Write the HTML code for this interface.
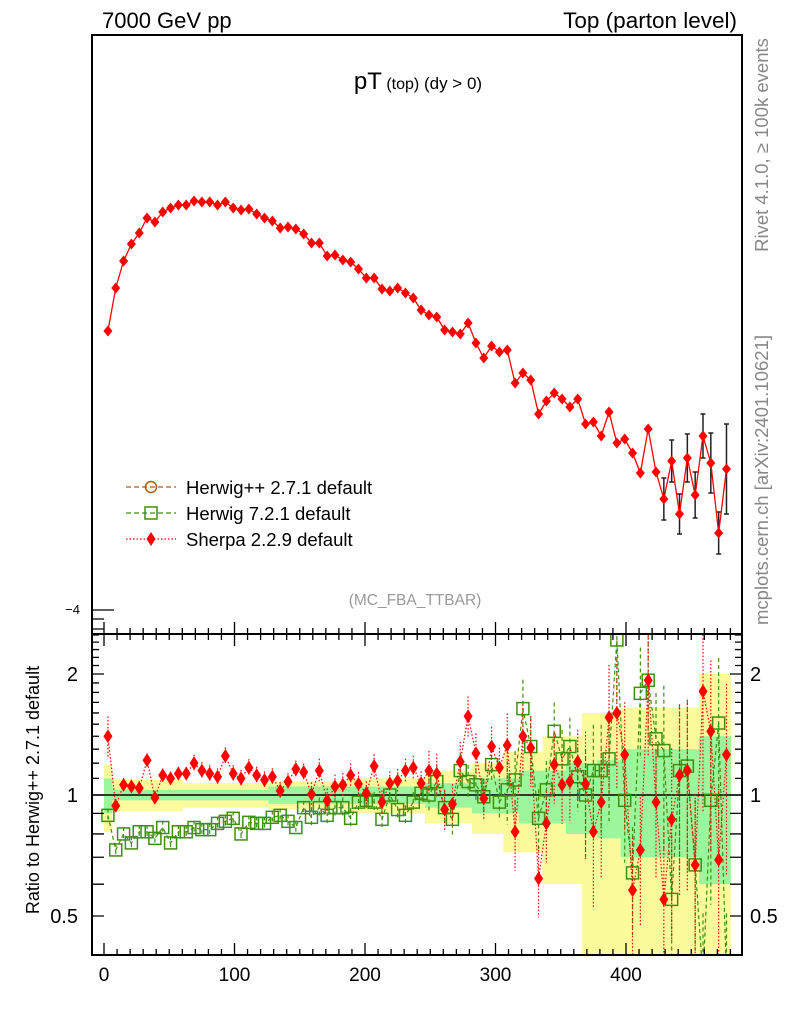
<!DOCTYPE html>
<html><head><meta charset="utf-8">
<style>
html,body{margin:0;padding:0;background:#fff;overflow:hidden;width:786px;height:1024px;}
svg{display:block;font-family:"Liberation Sans",sans-serif;}
</style></head>
<body>
<svg id="chart" width="786" height="1024" viewBox="0 0 786 1024" xmlns="http://www.w3.org/2000/svg">
<defs>
<clipPath id="clipMain"><rect x="92" y="35" width="650" height="599"/></clipPath>
<clipPath id="clipRatio"><rect x="92" y="634" width="650" height="321"/></clipPath>
</defs>
<text x="102" y="28" font-size="22">7000 GeV pp</text>
<text x="737" y="28" font-size="22.5" text-anchor="end">Top (parton level)</text>
<text x="418" y="89" text-anchor="middle"><tspan font-size="24">pT</tspan><tspan font-size="16"> (top)</tspan><tspan font-size="17"> (dy &gt; 0)</tspan></text>
<text x="415" y="605" font-size="15.5" fill="#999" text-anchor="middle">(MC_FBA_TTBAR)</text>
<text transform="translate(768,145) rotate(-90)" font-size="18.5" fill="#888" text-anchor="middle">Rivet 4.1.0, ≥ 100k events</text>
<text transform="translate(768,480) rotate(-90)" font-size="18.5" fill="#888" text-anchor="middle">mcplots.cern.ch [arXiv:2401.10621]</text>
<text transform="translate(39,790) rotate(-90)" font-size="18" text-anchor="middle">Ratio to Herwig++ 2.7.1 default</text>
<text x="80" y="614" font-size="13" text-anchor="end">−4</text>
<g id="bands" clip-path="url(#clipRatio)"></g>
<g id="ratioMarks" clip-path="url(#clipRatio)"></g>
<g id="mainMarks" clip-path="url(#clipMain)"></g>
<g id="axes"></g>
<g>
 <g>
  <line x1="126" y1="487" x2="176" y2="487" stroke="#b05a10" stroke-width="1.2" stroke-dasharray="5,3"/>
  <circle cx="151" cy="487" r="5.5" fill="none" stroke="#b05a10" stroke-width="1.5"/>
  <text x="186" y="494" font-size="18.5">Herwig++ 2.7.1 default</text>
 </g>
 <g>
  <line x1="126" y1="513" x2="176" y2="513" stroke="#3f8f0f" stroke-width="1.2" stroke-dasharray="5,3"/>
  <rect x="145" y="507" width="12" height="12" fill="none" stroke="#3f8f0f" stroke-width="1.5"/>
  <text x="186" y="520" font-size="18.5">Herwig 7.2.1 default</text>
 </g>
 <g>
  <line x1="126" y1="539" x2="176" y2="539" stroke="#f00" stroke-width="1.2" stroke-dasharray="1.5,2"/>
  <path d="M151,532 L155.5,539 L151,546 L146.5,539 Z" fill="#f00"/>
  <text x="186" y="546" font-size="18.5">Sherpa 2.2.9 default</text>
 </g>
</g>
</svg>
<script>
const ptCenters = [3,9,15,21,27,33,39,45,51,57,63,69,75,81,87,93,99,105,111,117,123,129,135,141,147,153,159,165,171,177,183,189,195,201,207,213,219,225,231,237,243,249,255,261,267,273,279,285,291,297,303,309,315,321,327,333,339,345,351,357,363,369,375,381,387,393,399,405,411,417,423,429,435,441,447,453,459,465,471,477];
const binHalfWidth = 3;
const sherpaLog10 = [-2.605,-2.39,-2.255,-2.17,-2.115,-2.04,-2.06,-2.01,-1.99,-1.975,-1.975,-1.955,-1.96,-1.96,-1.975,-1.96,-1.99,-2.0,-1.995,-2.02,-2.04,-2.055,-2.09,-2.085,-2.095,-2.12,-2.165,-2.165,-2.23,-2.225,-2.25,-2.26,-2.295,-2.34,-2.34,-2.395,-2.405,-2.39,-2.415,-2.44,-2.5,-2.525,-2.535,-2.6,-2.61,-2.62,-2.565,-2.665,-2.74,-2.68,-2.71,-2.7,-2.865,-2.815,-2.85,-3.02,-2.955,-2.915,-2.945,-2.985,-2.945,-3.07,-3.06,-3.13,-3.01,-3.165,-3.145,-3.215,-3.315,-3.095,-3.31,-3.445,-3.255,-3.52,-3.24,-3.425,-3.13,-3.265,-3.615,-3.295];
const sherpaLogErr = [0.004,0.004,0.004,0.004,0.004,0.004,0.004,0.004,0.004,0.004,0.004,0.004,0.004,0.004,0.004,0.004,0.004,0.004,0.004,0.004,0.004,0.004,0.004,0.004,0.004,0.004,0.004,0.004,0.004,0.004,0.004,0.004,0.004,0.004,0.004,0.004,0.004,0.004,0.004,0.004,0.01,0.01,0.01,0.01,0.01,0.01,0.01,0.01,0.01,0.01,0.01,0.01,0.01,0.01,0.01,0.01,0.01,0.01,0.01,0.01,0.03,0.03,0.03,0.04,0.03,0.04,0.04,0.05,0.06,0.04,0.06,0.105,0.105,0.1,0.12,0.115,0.11,0.15,0.105,0.225];
const sherpaRatio = [1.40,0.94,1.06,1.05,1.04,1.22,0.985,1.12,1.10,1.13,1.13,1.20,1.15,1.13,1.11,1.25,1.13,1.10,1.17,1.12,1.09,1.11,1.025,1.08,1.16,1.14,1.005,1.15,0.97,1.05,1.06,1.12,1.065,1.01,1.18,0.96,1.07,1.085,1.15,1.17,1.07,1.15,1.13,0.92,0.95,1.21,1.57,1.27,0.98,1.32,1.17,1.33,0.81,1.40,1.31,0.62,0.85,1.19,1.06,1.08,1.21,1.065,0.81,0.96,1.56,1.60,1.26,0.58,0.73,1.93,0.96,0.55,0.87,1.12,1.15,0.67,1.81,1.44,0.69,1.26];
const sherpaRatioErr = [0.12,0.04,0.04,0.04,0.04,0.04,0.04,0.04,0.04,0.04,0.04,0.05,0.05,0.05,0.05,0.05,0.05,0.05,0.05,0.05,0.05,0.05,0.05,0.05,0.05,0.05,0.07,0.07,0.07,0.07,0.07,0.07,0.07,0.07,0.07,0.07,0.07,0.07,0.07,0.07,0.07,0.12,0.12,0.12,0.12,0.12,0.12,0.12,0.12,0.12,0.12,0.2,0.2,0.2,0.2,0.2,0.2,0.2,0.2,0.2,0.2,0.35,0.35,0.35,0.35,0.35,0.35,0.35,0.35,0.35,0.35,0.5,0.5,0.5,0.5,0.5,0.5,0.5,0.5,0.5];
const herwig7Ratio = [0.89,0.73,0.80,0.76,0.81,0.81,0.78,0.83,0.76,0.81,0.81,0.83,0.82,0.82,0.85,0.86,0.875,0.80,0.855,0.85,0.85,0.88,0.89,0.86,0.83,0.93,0.88,0.93,0.89,0.93,0.93,0.875,0.96,0.97,0.96,0.87,1.0,0.92,0.89,0.96,1.01,1.0,1.08,0.93,0.87,1.15,1.08,1.06,0.99,1.19,0.96,1.03,1.09,1.64,1.32,0.875,1.03,1.44,1.23,1.32,1.11,1.0,1.15,1.15,1.23,2.43,0.97,0.64,1.79,1.93,1.38,1.29,0.55,1.15,1.18,0.67,0.35,0.97,1.51,0.35];
const herwig7RatioErr = [0.04,0.04,0.04,0.04,0.04,0.04,0.04,0.04,0.04,0.04,0.04,0.04,0.04,0.04,0.04,0.04,0.04,0.04,0.04,0.04,0.04,0.04,0.04,0.04,0.04,0.04,0.06,0.06,0.06,0.06,0.06,0.06,0.06,0.06,0.06,0.06,0.06,0.06,0.06,0.06,0.06,0.1,0.1,0.1,0.1,0.1,0.1,0.1,0.1,0.1,0.1,0.18,0.18,0.18,0.18,0.18,0.18,0.18,0.18,0.18,0.18,0.3,0.3,0.3,0.3,0.3,0.3,0.3,0.3,0.3,0.3,0.45,0.45,0.45,0.45,0.45,0.45,0.45,0.45,0.45];
const refTotalErr = [0.19,0.09,0.09,0.09,0.09,0.09,0.09,0.09,0.09,0.09,0.07,0.07,0.07,0.07,0.07,0.07,0.07,0.07,0.07,0.07,0.07,0.08,0.08,0.08,0.08,0.08,0.08,0.08,0.08,0.08,0.08,0.1,0.1,0.1,0.1,0.1,0.1,0.1,0.1,0.1,0.1,0.15,0.15,0.15,0.15,0.15,0.15,0.2,0.2,0.2,0.2,0.28,0.28,0.28,0.28,0.28,0.4,0.4,0.4,0.4,0.4,0.6,0.6,0.6,0.6,0.6,0.65,0.65,0.65,0.65,0.65,0.65,0.65,0.65,0.65,0.65,1.0,1.0,1.0,1.0];
const refStatErr = [0.1,0.03,0.03,0.03,0.03,0.03,0.03,0.03,0.03,0.03,0.03,0.03,0.03,0.03,0.03,0.03,0.03,0.03,0.03,0.03,0.03,0.05,0.05,0.05,0.05,0.05,0.05,0.05,0.05,0.05,0.05,0.05,0.05,0.05,0.05,0.05,0.05,0.05,0.05,0.05,0.05,0.07,0.07,0.07,0.07,0.07,0.07,0.1,0.1,0.1,0.1,0.1,0.1,0.15,0.15,0.15,0.15,0.15,0.15,0.2,0.2,0.2,0.2,0.22,0.22,0.22,0.3,0.3,0.3,0.3,0.3,0.3,0.3,0.3,0.3,0.3,0.4,0.4,0.4,0.4];
const xTicks = [0,100,200,300,400];
const ratioTicks = [0.5,1,2];
const ratioTickLabels = ["0.5","1","2"];

const NS = "http://www.w3.org/2000/svg";
function xS(v){ return 104 + 1.305*v; }
function yMain(lg){ return 610 - (lg + 4)*200; }
function yR(r){ return 795 - 402*Math.log10(Math.max(r,0.01)); }
function mk(tag, attrs, parent){
  const e = document.createElementNS(NS, tag);
  for (const k in attrs) e.setAttribute(k, attrs[k]);
  parent.appendChild(e);
  return e;
}
const bands = document.getElementById('bands');
const ratioG = document.getElementById('ratioMarks');
const mainG = document.getElementById('mainMarks');
const axes = document.getElementById('axes');

for (let i=0;i<ptCenters.length;i++){
  const x0 = xS(ptCenters[i]-binHalfWidth), x1 = xS(ptCenters[i]+binHalfWidth);
  const yb = mk('rect',{x:x0,y:yR(1+refTotalErr[i]),width:x1-x0+0.5,height:yR(1-refTotalErr[i])-yR(1+refTotalErr[i]),fill:'#fbfb9c'},bands);
  
  
}
for (let i=0;i<ptCenters.length;i++){
  const x0 = xS(ptCenters[i]-binHalfWidth), x1 = xS(ptCenters[i]+binHalfWidth);
  const gb = mk('rect',{x:x0,y:yR(1+refStatErr[i]),width:x1-x0+0.5,height:yR(1-refStatErr[i])-yR(1+refStatErr[i]),fill:'#9cf79c'},bands);
  
  
}
const refLine = mk('line',{x1:92,x2:742,y1:yR(1),y2:yR(1),stroke:'#000','stroke-width':1.5},bands);



let p7 = '';
for (let i=0;i<ptCenters.length;i++){ p7 += (i?'L':'M') + xS(ptCenters[i]) + ',' + yR(herwig7Ratio[i]); }
const h7line = mk('path',{d:p7,fill:'none',stroke:'#3f8f0f','stroke-width':1.2,'stroke-dasharray':'4,3'},ratioG);


for (let i=0;i<ptCenters.length;i++){
  const x = xS(ptCenters[i]), r = herwig7Ratio[i], e = herwig7RatioErr[i];
  const eb = mk('line',{x1:x,x2:x,y1:yR(r*(1+e)),y2:yR(r*(1-e)),stroke:'#3f8f0f','stroke-width':1.2,'stroke-dasharray':'4,3'},ratioG);
  
  
  const sq = mk('rect',{x:x-6,y:yR(r)-6,width:12,height:12,fill:'none',stroke:'#3f8f0f','stroke-width':1.5},ratioG);
  
  
}
let ps = '';
for (let i=0;i<ptCenters.length;i++){ ps += (i?'L':'M') + xS(ptCenters[i]) + ',' + yR(sherpaRatio[i]); }
const shLine = mk('path',{d:ps,fill:'none',stroke:'#f00','stroke-width':1.2,'stroke-dasharray':'1.5,2'},ratioG);


for (let i=0;i<ptCenters.length;i++){
  const x = xS(ptCenters[i]), r = sherpaRatio[i], e = sherpaRatioErr[i];
  const eb = mk('line',{x1:x,x2:x,y1:yR(r*(1+e)),y2:yR(r*(1-e)),stroke:'#f00','stroke-width':1.2,'stroke-dasharray':'1.5,2'},ratioG);
  
  
  const y = yR(r);
  const d = mk('path',{d:`M${x},${y-7}L${x+4.5},${y}L${x},${y+7}L${x-4.5},${y}Z`,fill:'#f00'},ratioG);
  
  
}
for (let i=0;i<ptCenters.length;i++){
  if (sherpaLogErr[i] < 0.09) continue;
  const x = xS(ptCenters[i]);
  const y1 = yMain(sherpaLog10[i]+sherpaLogErr[i]), y2 = yMain(sherpaLog10[i]-sherpaLogErr[i]);
  const eb = mk('path',{d:`M${x},${y1}L${x},${y2}M${x-2.5},${y1}L${x+2.5},${y1}M${x-2.5},${y2}L${x+2.5},${y2}`,stroke:'#222','stroke-width':1.5,fill:'none'},mainG);
  
  
}
let pm = '';
for (let i=0;i<ptCenters.length;i++){ pm += (i?'L':'M') + xS(ptCenters[i]) + ',' + yMain(sherpaLog10[i]); }
const mLine = mk('path',{d:pm,fill:'none',stroke:'#f00','stroke-width':1.3},mainG);


for (let i=0;i<ptCenters.length;i++){
  const x = xS(ptCenters[i]), y = yMain(sherpaLog10[i]);
  const d = mk('path',{d:`M${x},${y-5.5}L${x+4.5},${y}L${x},${y+5.5}L${x-4.5},${y}Z`,fill:'#f00'},mainG);
  
  
}
const f1 = mk('rect',{x:92,y:35,width:650,height:599,fill:'none',stroke:'#000','stroke-width':2},axes);


const f2 = mk('rect',{x:92,y:634,width:650,height:321,fill:'none',stroke:'#000','stroke-width':2},axes);


const tk = mk('path',{d:'M92,610L114,610M92,619L104,619M92,629L104,629',stroke:'#000','stroke-width':1.3},axes);


let dx = '';
for (let v=0; v<=480; v+=10){
  const x = xS(v); const major = (v%100===0); const L = major?12:6;
  dx += `M${x},955L${x},${955-L}M${x},634L${x},${634+L}M${x},634L${x},${634-L}`;
}
const xt = mk('path',{d:dx,stroke:'#000','stroke-width':1.3},axes);


for (const v of xTicks){
  const t = mk('text',{x:xS(v),y:981,'font-size':19,'text-anchor':'middle'},axes);
  t.textContent = v;
  
  
}
let dy = '';
const minorR = [0.4,0.5,0.6,0.7,0.8,0.9,1,2];
for (const r of minorR){ const y=yR(r); dy += `M92,${y}L104,${y}M742,${y}L730,${y}`; }
for (const r of [1.1,1.2,1.3,1.4,1.5,1.6,1.7,1.8,1.9,2.1,2.2,2.3,2.4,2.5]){ const y=yR(r); dy += `M92,${y}L99,${y}M742,${y}L735,${y}`; }
const yt = mk('path',{d:dy,stroke:'#000','stroke-width':1.3},axes);


for (let i=0;i<ratioTicks.length;i++){
  const y = yR(ratioTicks[i]) + 7;
  const tl = mk('text',{x:78,y:y,'font-size':20,'text-anchor':'end'},axes);
  tl.textContent = ratioTickLabels[i];
  
  
  const tr = mk('text',{x:750,y:y,'font-size':20},axes);
  tr.textContent = ratioTickLabels[i];
  
  
}
</script>
</body></html>
